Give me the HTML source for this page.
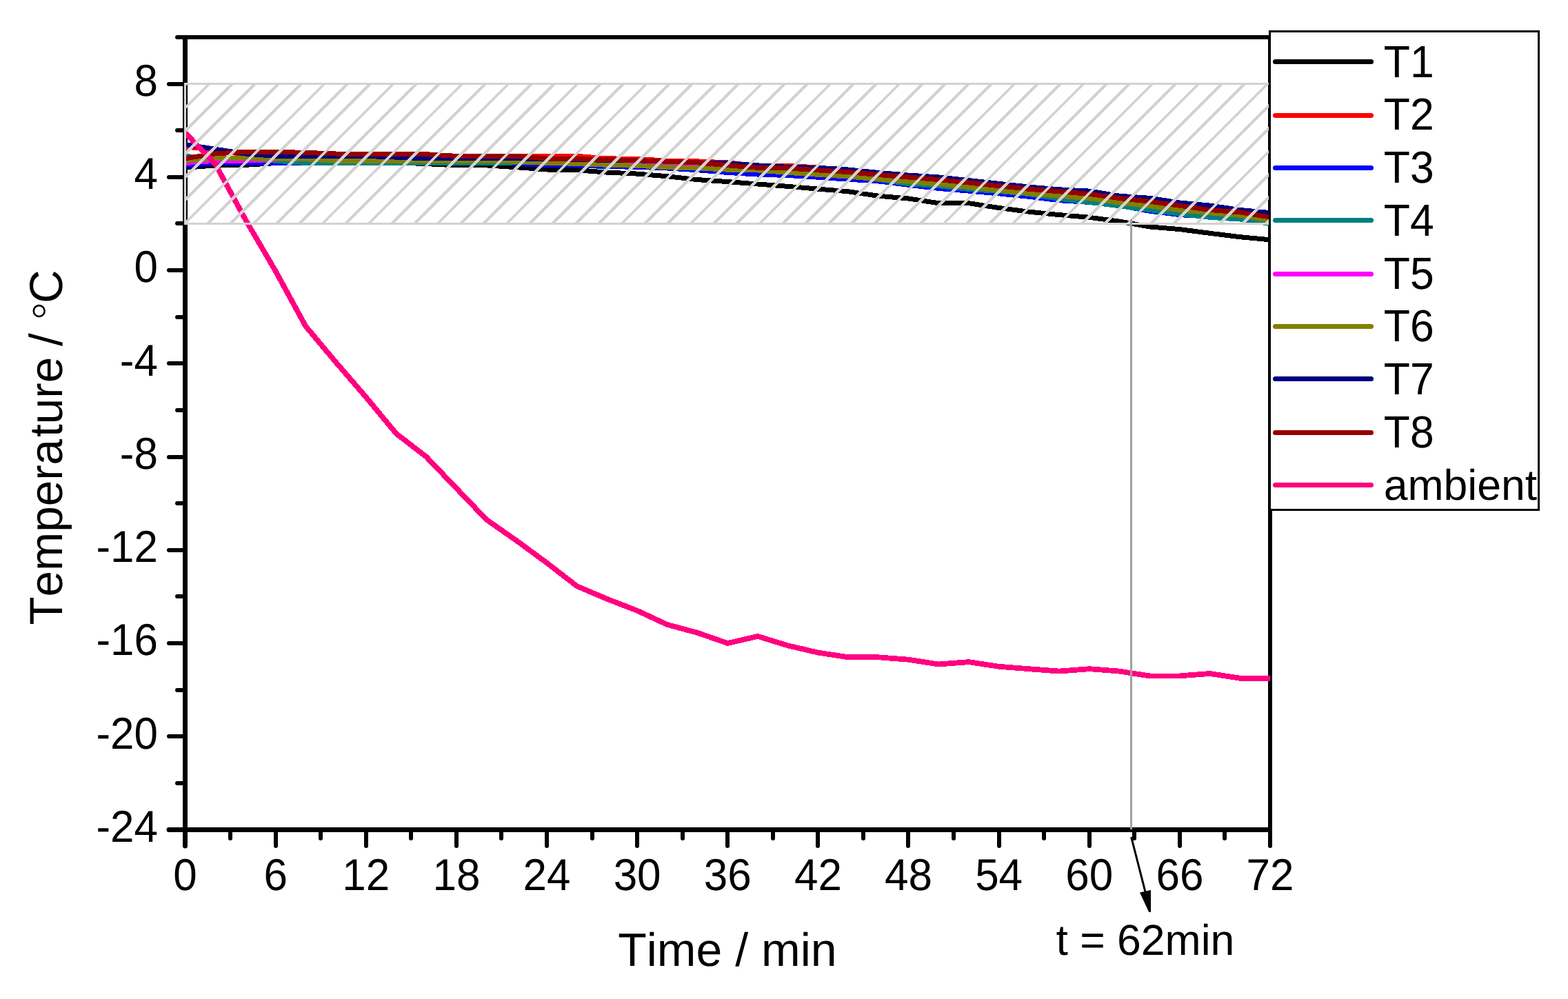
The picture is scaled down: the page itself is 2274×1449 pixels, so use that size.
<!DOCTYPE html>
<html lang="en"><head><meta charset="utf-8"><title>Temperature / Time</title>
<style>
html,body{margin:0;padding:0;background:#fff;}
body{width:2274px;height:1449px;overflow:hidden;}
svg{display:block;}
text{font-family:"Liberation Sans",Arial,Helvetica,sans-serif;fill:#000;font-kerning:none;text-rendering:geometricPrecision;}
.ax{stroke:#000;fill:none;stroke-linecap:round;}
.cv{fill:none;stroke-width:7;stroke-linejoin:round;stroke-linecap:butt;}
</style></head><body>
<svg width="2274" height="1449" viewBox="0 0 2274 1449">
<defs>
<clipPath id="hc"><rect x="268.5" y="121.5" width="1573.5" height="203"/></clipPath>
<clipPath id="pc"><rect x="268.5" y="57" width="1573.5" height="1143"/></clipPath>
</defs>
<rect x="0" y="0" width="2274" height="1449" fill="#fff"/>
<g shape-rendering="crispEdges">
<rect x="265" y="51" width="7" height="1156" fill="#000"/>
<rect x="265" y="1200" width="1580" height="7" fill="#000"/>
<rect x="265" y="51" width="1580" height="6" fill="#000"/>
<rect x="1839" y="51" width="6" height="1156" fill="#000"/>
</g>
<g class="ax">
<line x1="245.0" y1="1203.5" x2="268" y2="1203.5" stroke-width="7"/>
<line x1="257.0" y1="1136.0" x2="268" y2="1136.0" stroke-width="6"/>
<line x1="245.0" y1="1068.0" x2="268" y2="1068.0" stroke-width="6"/>
<line x1="257.0" y1="1001.0" x2="268" y2="1001.0" stroke-width="6"/>
<line x1="245.0" y1="933.0" x2="268" y2="933.0" stroke-width="6"/>
<line x1="257.0" y1="865.0" x2="268" y2="865.0" stroke-width="6"/>
<line x1="245.0" y1="798.0" x2="268" y2="798.0" stroke-width="6"/>
<line x1="257.0" y1="730.0" x2="268" y2="730.0" stroke-width="6"/>
<line x1="245.0" y1="663.0" x2="268" y2="663.0" stroke-width="6"/>
<line x1="257.0" y1="595.0" x2="268" y2="595.0" stroke-width="6"/>
<line x1="245.0" y1="527.0" x2="268" y2="527.0" stroke-width="6"/>
<line x1="257.0" y1="460.0" x2="268" y2="460.0" stroke-width="6"/>
<line x1="245.0" y1="392.0" x2="268" y2="392.0" stroke-width="6"/>
<line x1="257.0" y1="324.0" x2="268" y2="324.0" stroke-width="6"/>
<line x1="245.0" y1="257.0" x2="268" y2="257.0" stroke-width="6"/>
<line x1="257.0" y1="189.0" x2="268" y2="189.0" stroke-width="6"/>
<line x1="245.0" y1="122.0" x2="268" y2="122.0" stroke-width="6"/>
<line x1="257.0" y1="54.0" x2="268" y2="54.0" stroke-width="6"/>
<line x1="268.5" y1="1203" x2="268.5" y2="1227.0" stroke-width="7"/>
<line x1="334.0" y1="1203" x2="334.0" y2="1216.0" stroke-width="6"/>
<line x1="400.0" y1="1203" x2="400.0" y2="1227.0" stroke-width="6"/>
<line x1="465.0" y1="1203" x2="465.0" y2="1216.0" stroke-width="6"/>
<line x1="531.0" y1="1203" x2="531.0" y2="1227.0" stroke-width="6"/>
<line x1="596.0" y1="1203" x2="596.0" y2="1216.0" stroke-width="6"/>
<line x1="662.0" y1="1203" x2="662.0" y2="1227.0" stroke-width="6"/>
<line x1="727.0" y1="1203" x2="727.0" y2="1216.0" stroke-width="6"/>
<line x1="793.0" y1="1203" x2="793.0" y2="1227.0" stroke-width="6"/>
<line x1="859.0" y1="1203" x2="859.0" y2="1216.0" stroke-width="6"/>
<line x1="924.0" y1="1203" x2="924.0" y2="1227.0" stroke-width="6"/>
<line x1="990.0" y1="1203" x2="990.0" y2="1216.0" stroke-width="6"/>
<line x1="1055.0" y1="1203" x2="1055.0" y2="1227.0" stroke-width="6"/>
<line x1="1121.0" y1="1203" x2="1121.0" y2="1216.0" stroke-width="6"/>
<line x1="1186.0" y1="1203" x2="1186.0" y2="1227.0" stroke-width="6"/>
<line x1="1252.0" y1="1203" x2="1252.0" y2="1216.0" stroke-width="6"/>
<line x1="1317.0" y1="1203" x2="1317.0" y2="1227.0" stroke-width="6"/>
<line x1="1383.0" y1="1203" x2="1383.0" y2="1216.0" stroke-width="6"/>
<line x1="1449.0" y1="1203" x2="1449.0" y2="1227.0" stroke-width="6"/>
<line x1="1514.0" y1="1203" x2="1514.0" y2="1216.0" stroke-width="6"/>
<line x1="1580.0" y1="1203" x2="1580.0" y2="1227.0" stroke-width="6"/>
<line x1="1645.0" y1="1203" x2="1645.0" y2="1216.0" stroke-width="6"/>
<line x1="1711.0" y1="1203" x2="1711.0" y2="1227.0" stroke-width="6"/>
<line x1="1776.0" y1="1203" x2="1776.0" y2="1216.0" stroke-width="6"/>
<line x1="1842.0" y1="1203" x2="1842.0" y2="1227.0" stroke-width="6"/>
</g>
<g clip-path="url(#pc)" shape-rendering="crispEdges">
<polyline class="cv" stroke="#000000" points="268.5,243.3 312.2,239.9 355.9,239.3 399.6,236.6 443.3,236.6 487.0,236.6 530.8,236.6 574.5,235.9 618.2,237.6 661.9,239.9 705.6,239.9 749.3,242.7 793.0,246.0 836.7,246.7 880.4,250.1 924.1,252.1 967.8,255.8 1011.5,260.6 1055.2,263.6 1099.0,267.0 1142.7,270.4 1186.4,274.1 1230.1,277.8 1273.8,284.2 1317.5,288.0 1361.2,294.7 1404.9,294.7 1448.6,301.5 1492.3,307.2 1536.0,311.6 1579.8,315.3 1623.5,321.1 1667.2,328.9 1710.9,332.6 1754.6,338.3 1798.3,343.7 1842.0,347.8"/>
<polyline class="cv" stroke="#FF0000" points="268.5,212.9 312.2,217.6 355.9,224.4 399.6,223.7 443.3,223.0 487.0,223.7 530.8,223.7 574.5,223.7 618.2,224.7 661.9,227.1 705.6,227.1 749.3,226.4 793.0,226.4 836.7,226.4 880.4,229.8 924.1,230.5 967.8,233.2 1011.5,233.9 1055.2,235.9 1099.0,240.6 1142.7,240.3 1186.4,243.0 1230.1,247.4 1273.8,251.8 1317.5,255.8 1361.2,259.2 1404.9,263.6 1448.6,268.3 1492.3,273.1 1536.0,276.5 1579.8,279.8 1623.5,286.3 1667.2,290.7 1710.9,296.7 1754.6,302.2 1798.3,306.9 1842.0,312.6"/>
<polyline class="cv" stroke="#0000FF" points="268.5,239.9 312.2,236.6 355.9,236.6 399.6,236.6 443.3,235.9 487.0,235.9 530.8,235.9 574.5,235.9 618.2,235.9 661.9,235.9 705.6,235.9 749.3,237.2 793.0,239.9 836.7,239.9 880.4,241.6 924.1,242.3 967.8,244.0 1011.5,246.7 1055.2,250.4 1099.0,253.1 1142.7,254.5 1186.4,257.2 1230.1,260.2 1273.8,262.9 1317.5,268.3 1361.2,273.4 1404.9,277.1 1448.6,280.9 1492.3,285.3 1536.0,290.7 1579.8,293.4 1623.5,298.1 1667.2,306.2 1710.9,311.6 1754.6,314.3 1798.3,317.0 1842.0,321.1"/>
<polyline class="cv" stroke="#008080" points="268.5,226.4 312.2,229.8 355.9,230.5 399.6,233.2 443.3,236.6 487.0,236.6 530.8,236.6 574.5,236.6 618.2,236.6 661.9,236.6 705.6,236.6 749.3,235.9 793.0,235.9 836.7,236.6 880.4,238.3 924.1,239.3 967.8,241.6 1011.5,242.7 1055.2,245.7 1099.0,246.4 1142.7,249.4 1186.4,252.5 1230.1,255.8 1273.8,260.2 1317.5,266.7 1361.2,269.7 1404.9,274.4 1448.6,277.5 1492.3,281.5 1536.0,288.3 1579.8,293.4 1623.5,298.8 1667.2,304.5 1710.9,310.3 1754.6,315.3 1798.3,318.0 1842.0,324.5"/>
<polyline class="cv" stroke="#FF00FF" points="268.5,236.6 312.2,233.2 355.9,233.2 399.6,231.2 443.3,226.1 487.0,228.1 530.8,228.1 574.5,228.1 618.2,228.5 661.9,229.8 705.6,229.8 749.3,230.3 793.0,233.4 836.7,234.0 880.4,235.4 924.1,236.4 967.8,238.4 1011.5,239.8 1055.2,243.0 1099.0,245.2 1142.7,247.2 1186.4,250.1 1230.1,252.8 1273.8,256.7 1317.5,260.2 1361.2,263.8 1404.9,268.2 1448.6,272.9 1492.3,277.5 1536.0,281.0 1579.8,284.6 1623.5,290.8 1667.2,295.4 1710.9,301.5 1754.6,306.7 1798.3,310.1 1842.0,317.4"/>
<polyline class="cv" stroke="#808000" points="268.5,233.2 312.2,229.8 355.9,229.8 399.6,230.5 443.3,230.8 487.0,233.2 530.8,233.2 574.5,233.2 618.2,233.2 661.9,233.2 705.6,233.2 749.3,234.2 793.0,236.6 836.7,237.2 880.4,239.3 924.1,240.3 967.8,242.7 1011.5,243.7 1055.2,246.2 1099.0,247.0 1142.7,250.4 1186.4,253.3 1230.1,256.0 1273.8,259.9 1317.5,263.4 1361.2,267.0 1404.9,271.4 1448.6,276.1 1492.3,280.7 1536.0,284.2 1579.8,287.8 1623.5,294.0 1667.2,298.6 1710.9,304.7 1754.6,308.9 1798.3,312.3 1842.0,319.7"/>
<polyline class="cv" stroke="#000080" points="268.5,209.5 312.2,216.3 355.9,223.0 399.6,226.4 443.3,226.4 487.0,226.4 530.8,226.4 574.5,228.1 618.2,229.8 661.9,229.8 705.6,229.8 749.3,229.8 793.0,230.5 836.7,231.2 880.4,232.5 924.1,232.8 967.8,234.2 1011.5,235.9 1055.2,236.9 1099.0,239.9 1142.7,242.3 1186.4,243.3 1230.1,246.0 1273.8,250.4 1317.5,254.1 1361.2,256.9 1404.9,261.6 1448.6,266.3 1492.3,271.1 1536.0,274.8 1579.8,277.1 1623.5,284.2 1667.2,287.3 1710.9,294.0 1754.6,298.1 1798.3,304.5 1842.0,308.6"/>
<polyline class="cv" stroke="#960000" points="268.5,229.8 312.2,223.0 355.9,220.3 399.6,220.3 443.3,221.4 487.0,223.0 530.8,223.0 574.5,223.0 618.2,223.7 661.9,226.4 705.6,226.4 749.3,226.4 793.0,230.1 836.7,230.8 880.4,231.5 924.1,232.5 967.8,234.2 1011.5,235.9 1055.2,239.8 1099.0,243.3 1142.7,244.0 1186.4,246.9 1230.1,249.6 1273.8,253.5 1317.5,257.0 1361.2,260.6 1404.9,265.0 1448.6,269.7 1492.3,274.3 1536.0,277.8 1579.8,281.4 1623.5,287.6 1667.2,292.2 1710.9,298.3 1754.6,304.5 1798.3,307.9 1842.0,315.0"/>
<polyline class="cv" stroke="#FF0080" style="stroke-width:7.8" points="268.5,192.6 312.2,237.9 355.9,318.4 399.6,393.1 443.3,473.2 487.0,525.3 530.8,576.0 574.5,628.8 618.2,662.6 661.9,708.2 705.6,753.8 749.3,784.3 793.0,816.4 836.7,850.2 880.4,868.8 924.1,885.7 967.8,906.0 1011.5,917.8 1055.2,933.0 1099.0,922.9 1142.7,936.4 1186.4,946.6 1230.1,953.3 1273.8,953.3 1317.5,956.7 1361.2,963.5 1404.9,960.1 1448.6,966.8 1492.3,970.2 1536.0,973.6 1579.8,970.2 1623.5,973.6 1667.2,980.4 1710.9,980.4 1754.6,977.0 1798.3,983.7 1842.0,983.7"/>
</g>
<g clip-path="url(#hc)" stroke="#D2D2D2" stroke-width="4.1" fill="none" shape-rendering="crispEdges">
<path d="M61.7 330L276.7 115M95.1 330L310.1 115M128.5 330L343.5 115M161.8 330L376.8 115M195.2 330L410.2 115M228.6 330L443.6 115M261.9 330L476.9 115M295.3 330L510.3 115M328.7 330L543.7 115M362.0 330L577.0 115M395.4 330L610.4 115M428.8 330L643.8 115M462.1 330L677.1 115M495.5 330L710.5 115M528.9 330L743.9 115M562.2 330L777.2 115M595.6 330L810.6 115M629.0 330L844.0 115M662.3 330L877.3 115M695.7 330L910.7 115M729.1 330L944.1 115M762.4 330L977.4 115M795.8 330L1010.8 115M829.2 330L1044.2 115M862.5 330L1077.5 115M895.9 330L1110.9 115M929.3 330L1144.3 115M962.6 330L1177.6 115M996.0 330L1211.0 115M1029.4 330L1244.4 115M1062.7 330L1277.7 115M1096.1 330L1311.1 115M1129.5 330L1344.5 115M1162.8 330L1377.8 115M1196.2 330L1411.2 115M1229.6 330L1444.6 115M1262.9 330L1477.9 115M1296.3 330L1511.3 115M1329.7 330L1544.7 115M1363.0 330L1578.0 115M1396.4 330L1611.4 115M1429.8 330L1644.8 115M1463.1 330L1678.1 115M1496.5 330L1711.5 115M1529.9 330L1744.9 115M1563.2 330L1778.2 115M1596.6 330L1811.6 115M1630.0 330L1845.0 115M1663.3 330L1878.3 115M1696.7 330L1911.7 115M1730.1 330L1945.1 115M1763.4 330L1978.4 115M1796.8 330L2011.8 115M1830.2 330L2045.2 115"/>
</g>
<rect x="268.5" y="121.5" width="1573.5" height="203" fill="none" stroke="#D2D2D2" stroke-width="3" shape-rendering="crispEdges"/>
<rect x="1639" y="318" width="3" height="885" fill="#A0A0A0" shape-rendering="crispEdges"/>
<rect x="1841.5" y="45.5" width="390" height="694" fill="#fff" stroke="#000" stroke-width="3" shape-rendering="crispEdges"/>
<line x1="1849.5" y1="89.5" x2="1988.5" y2="89.5" stroke="#000000" stroke-width="7" stroke-linecap="round"/>
<text transform="translate(2006.70 112.00) scale(1 1.0450)" font-size="62.50">T1</text>
<line x1="1849.5" y1="167.5" x2="1988.5" y2="167.5" stroke="#FF0000" stroke-width="7" stroke-linecap="round"/>
<text transform="translate(2006.70 188.00) scale(1 1.0450)" font-size="62.50">T2</text>
<line x1="1849.5" y1="243.5" x2="1988.5" y2="243.5" stroke="#0000FF" stroke-width="7" stroke-linecap="round"/>
<text transform="translate(2006.70 265.00) scale(1 1.0450)" font-size="62.50">T3</text>
<line x1="1849.5" y1="319.5" x2="1988.5" y2="319.5" stroke="#008080" stroke-width="7" stroke-linecap="round"/>
<text transform="translate(2006.70 342.00) scale(1 1.0450)" font-size="62.50">T4</text>
<line x1="1849.5" y1="397.5" x2="1988.5" y2="397.5" stroke="#FF00FF" stroke-width="7" stroke-linecap="round"/>
<text transform="translate(2006.70 419.00) scale(1 1.0450)" font-size="62.50">T5</text>
<line x1="1849.5" y1="473.5" x2="1988.5" y2="473.5" stroke="#808000" stroke-width="7" stroke-linecap="round"/>
<text transform="translate(2006.70 495.00) scale(1 1.0450)" font-size="62.50">T6</text>
<line x1="1849.5" y1="549.5" x2="1988.5" y2="549.5" stroke="#000080" stroke-width="7" stroke-linecap="round"/>
<text transform="translate(2006.70 572.00) scale(1 1.0450)" font-size="62.50">T7</text>
<line x1="1849.5" y1="627.5" x2="1988.5" y2="627.5" stroke="#960000" stroke-width="7" stroke-linecap="round"/>
<text transform="translate(2006.70 649.00) scale(1 1.0450)" font-size="62.50">T8</text>
<line x1="1849.5" y1="703.5" x2="1988.5" y2="703.5" stroke="#FF0080" stroke-width="7" stroke-linecap="round"/>
<text transform="translate(2006.70 725.00)" font-size="62.50">ambient</text>
<text transform="translate(229.00 1220.80) scale(1 1.0450)" font-size="62.00" text-anchor="end">-24</text>
<text transform="translate(229.00 1085.56) scale(1 1.0450)" font-size="62.00" text-anchor="end">-20</text>
<text transform="translate(229.00 950.33) scale(1 1.0450)" font-size="62.00" text-anchor="end">-16</text>
<text transform="translate(229.00 815.09) scale(1 1.0450)" font-size="62.00" text-anchor="end">-12</text>
<text transform="translate(229.00 679.86) scale(1 1.0450)" font-size="62.00" text-anchor="end">-8</text>
<text transform="translate(229.00 544.62) scale(1 1.0450)" font-size="62.00" text-anchor="end">-4</text>
<text transform="translate(229.00 409.39) scale(1 1.0450)" font-size="62.00" text-anchor="end">0</text>
<text transform="translate(229.00 274.15) scale(1 1.0450)" font-size="62.00" text-anchor="end">4</text>
<text transform="translate(229.00 138.92) scale(1 1.0450)" font-size="62.00" text-anchor="end">8</text>
<text transform="translate(268.50 1291.00) scale(1 1.0450)" font-size="62.00" text-anchor="middle">0</text>
<text transform="translate(399.62 1291.00) scale(1 1.0450)" font-size="62.00" text-anchor="middle">6</text>
<text transform="translate(530.75 1291.00) scale(1 1.0450)" font-size="62.00" text-anchor="middle">12</text>
<text transform="translate(661.88 1291.00) scale(1 1.0450)" font-size="62.00" text-anchor="middle">18</text>
<text transform="translate(793.00 1291.00) scale(1 1.0450)" font-size="62.00" text-anchor="middle">24</text>
<text transform="translate(924.12 1291.00) scale(1 1.0450)" font-size="62.00" text-anchor="middle">30</text>
<text transform="translate(1055.25 1291.00) scale(1 1.0450)" font-size="62.00" text-anchor="middle">36</text>
<text transform="translate(1186.38 1291.00) scale(1 1.0450)" font-size="62.00" text-anchor="middle">42</text>
<text transform="translate(1317.50 1291.00) scale(1 1.0450)" font-size="62.00" text-anchor="middle">48</text>
<text transform="translate(1448.62 1291.00) scale(1 1.0450)" font-size="62.00" text-anchor="middle">54</text>
<text transform="translate(1579.75 1291.00) scale(1 1.0450)" font-size="62.00" text-anchor="middle">60</text>
<text transform="translate(1710.88 1291.00) scale(1 1.0450)" font-size="62.00" text-anchor="middle">66</text>
<text transform="translate(1842.00 1291.00) scale(1 1.0450)" font-size="62.00" text-anchor="middle">72</text>
<text transform="translate(1054.90 1400.80)" font-size="68.00" text-anchor="middle">Time / min</text>
<text transform="translate(90.40 906.60) rotate(-90)" font-size="67.40">Tempera<tspan dx="3">ture</tspan><tspan dx="-3"> / </tspan><tspan font-family="'DejaVu Sans','Liberation Sans',sans-serif" font-weight="200" font-size="68.8" x="438.3" y="6.9">°</tspan><tspan x="466.7" y="0">C</tspan></text>
<line x1="1640.6" y1="1214" x2="1661.6" y2="1296" stroke="#000" stroke-width="3"/>
<polygon points="1653,1294.6 1669,1291 1669,1323 1666.2,1323" fill="#000"/>
<text transform="translate(1531.50 1385.30)" font-size="62.50">t = 62min</text>
</svg>
</body></html>
